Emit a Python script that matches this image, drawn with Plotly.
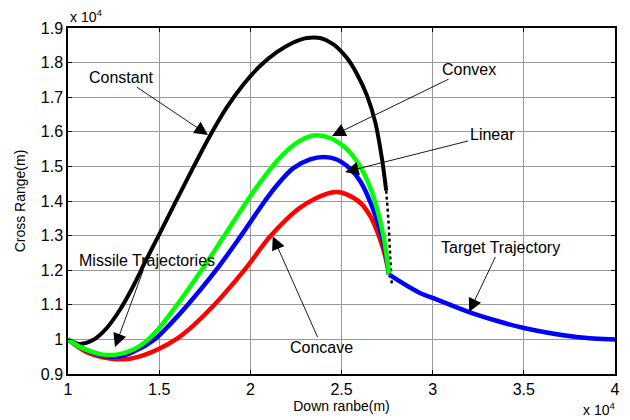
import plotly.graph_objects as go

# Values in units of 1e4 m
constant_x = [1.0, 1.064, 1.137, 1.211, 1.284, 1.357, 1.43, 1.502, 1.586, 1.687, 1.778, 1.87, 1.962, 2.053, 2.145, 2.236, 2.31, 2.383, 2.456, 2.529, 2.584, 2.639, 2.685, 2.722, 2.745]
constant_y = [1.0, 0.987, 0.998, 1.032, 1.085, 1.153, 1.231, 1.305, 1.393, 1.497, 1.588, 1.670, 1.737, 1.790, 1.830, 1.858, 1.871, 1.871, 1.853, 1.814, 1.768, 1.706, 1.628, 1.522, 1.43]
constant_tail_x = [2.745, 2.758, 2.767, 2.776]
constant_tail_y = [1.43, 1.337, 1.24, 1.158]

convex_x = [1.0, 1.082, 1.192, 1.266, 1.357, 1.43, 1.50, 1.584, 1.739, 1.858, 1.976, 2.053, 2.145, 2.236, 2.31, 2.364, 2.438, 2.511, 2.566, 2.621, 2.667, 2.70, 2.73, 2.761]
convex_y = [1.0, 0.974, 0.956, 0.956, 0.970, 0.995, 1.033, 1.09, 1.205, 1.30, 1.395, 1.453, 1.515, 1.561, 1.584, 1.59, 1.582, 1.558, 1.528, 1.482, 1.425, 1.368, 1.30, 1.187]

linear_x = [1.0, 1.1, 1.192, 1.266, 1.357, 1.475, 1.566, 1.657, 1.812, 1.949, 2.08, 2.145, 2.236, 2.328, 2.401, 2.474, 2.548, 2.603, 2.658, 2.712, 2.74, 2.761]
linear_y = [1.0, 0.969, 0.953, 0.95, 0.964, 1.0, 1.047, 1.10, 1.20, 1.30, 1.40, 1.445, 1.495, 1.520, 1.527, 1.52, 1.493, 1.457, 1.397, 1.315, 1.255, 1.187]

concave_x = [1.0, 1.1, 1.229, 1.32, 1.412, 1.50, 1.60, 1.687, 1.803, 1.967, 2.113, 2.268, 2.36, 2.44, 2.48, 2.529, 2.603, 2.658, 2.712, 2.74, 2.761]
concave_y = [1.0, 0.964, 0.945, 0.943, 0.954, 0.973, 1.003, 1.04, 1.10, 1.20, 1.30, 1.379, 1.408, 1.424, 1.426, 1.419, 1.395, 1.356, 1.289, 1.24, 1.187]

target_x = [2.761, 2.93, 3.0, 3.2, 3.35, 3.5, 3.79, 4.0]
target_y = [1.187, 1.134, 1.12, 1.079, 1.054, 1.033, 1.007, 1.0]

x_ticks = [1, 1.5, 2, 2.5, 3, 3.5, 4]
x_labels = ["1", "1.5", "2", "2.5", "3", "3.5", "4"]
y_ticks = [0.9, 1.0, 1.1, 1.2, 1.3, 1.4, 1.5, 1.6, 1.7, 1.8, 1.9]
y_labels = ["0.9", "1", "1.1", "1.2", "1.3", "1.4", "1.5", "1.6", "1.7", "1.8", "1.9"]

FONT = "Liberation Sans, Arial, sans-serif"
SMOOTH = 1.0

fig = go.Figure()
fig.add_trace(go.Scatter(x=constant_x, y=constant_y, mode="lines",
                         line=dict(color="black", width=4, shape="spline", smoothing=SMOOTH)))
fig.add_trace(go.Scatter(x=constant_tail_x, y=constant_tail_y, mode="lines",
                         line=dict(color="black", width=2.5, dash="dot", shape="spline")))
fig.add_trace(go.Scatter(x=concave_x, y=concave_y, mode="lines",
                         line=dict(color="#ff0000", width=4.5, shape="spline", smoothing=SMOOTH)))
fig.add_trace(go.Scatter(x=linear_x, y=linear_y, mode="lines",
                         line=dict(color="#0000ff", width=4.5, shape="spline", smoothing=SMOOTH)))
fig.add_trace(go.Scatter(x=convex_x, y=convex_y, mode="lines",
                         line=dict(color="#00ff00", width=4.5, shape="spline", smoothing=SMOOTH)))
fig.add_trace(go.Scatter(x=target_x, y=target_y, mode="lines",
                         line=dict(color="#0000ff", width=4.5, shape="spline", smoothing=SMOOTH)))

def arrow(text, tx, ty, hx, hy):
    return dict(x=hx, y=hy, ax=tx, ay=ty, xref="x", yref="y", axref="x", ayref="y",
                text=text, showarrow=True, arrowhead=2, arrowsize=3, arrowwidth=0.9,
                arrowcolor="black", font=dict(family=FONT, size=16, color="black"))

annotations = [
    arrow("Constant", 1.296, 1.758, 1.768, 1.591),
    arrow("Convex", 3.2, 1.781, 2.448, 1.588),
    arrow("Linear", 3.326, 1.591, 2.52, 1.484),
    arrow("Missile Trajectories", 1.433, 1.229, 1.258, 0.978),
    arrow("Concave", 2.393, 0.978, 2.123, 1.298),
    arrow("Target Trajectory", 3.37, 1.267, 3.2, 1.079),
    dict(x=0, y=1, xref="paper", yref="paper", xanchor="left", yanchor="bottom",
         text="x 10<sup>4</sup>", showarrow=False, yshift=1,
         font=dict(family=FONT, size=14, color="black")),
    dict(x=1, y=0, xref="paper", yref="paper", xanchor="right", yanchor="top",
         text="x 10<sup>4</sup>", showarrow=False, yshift=-24, xshift=2,
         font=dict(family=FONT, size=14, color="black")),
]

axis_common = dict(showline=True, linecolor="black", linewidth=1.5, mirror="ticks",
                   ticks="inside", ticklen=4, tickcolor="black", automargin=False,
                   showgrid=True, gridcolor="#9a9a9a", gridwidth=1, zeroline=False,
                   tickfont=dict(family=FONT, size=16, color="black"))

fig.update_layout(
    width=630, height=420,
    margin=dict(l=68, r=15, t=28, b=46),
    paper_bgcolor="white", plot_bgcolor="white",
    showlegend=False,
    xaxis=dict(range=[1, 4], tickvals=x_ticks, ticktext=x_labels,
               title=dict(text="Down ranbe(m)", font=dict(family=FONT, size=14, color="black"), standoff=2),
               **axis_common),
    yaxis=dict(range=[0.9, 1.9], tickvals=y_ticks, ticktext=y_labels,
               title=dict(text="Cross Range(m)", font=dict(family=FONT, size=14, color="black"), standoff=12),
               **axis_common),
    annotations=annotations,
)

fig.write_html("out.html", config={"displayModeBar": False},
               post_script="document.body.style.margin='0px';document.body.style.overflow='hidden';")
